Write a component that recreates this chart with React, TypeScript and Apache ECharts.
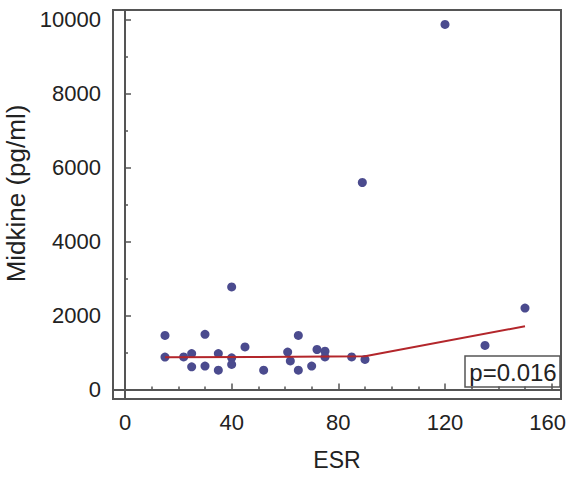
import React, { useEffect, useRef } from "react";
import * as echarts from "echarts";

const esr = [15, 15, 22, 25, 25, 30, 30, 35, 35, 40, 40, 40, 45, 52, 61, 62, 65, 65, 70, 72, 75, 75, 85, 89, 90, 120, 135, 150];
const midkine = [1460, 875, 880, 970, 610, 1490, 630, 970, 520, 2775, 855, 675, 1150, 520, 1010, 770, 1460, 520, 630, 1080, 1035, 880, 880, 5600, 810, 9880, 1190, 2200];
const fitX = [15, 50, 90, 150];
const fitY = [870, 878, 895, 1710];
const pLabel = "p=0.016";
const xName = "ESR";
const yName = "Midkine (pg/ml)";

const FONT = "'Liberation Sans', Arial, sans-serif";

export default function App() {
  const ref = useRef<HTMLDivElement>(null);
  useEffect(() => {
    if (!ref.current) return;
    const chart = echarts.init(ref.current, undefined, { renderer: "svg" });
    const points = esr.map((x, i) => [x, midkine[i]]);
    const fit = fitX.map((x, i) => [x, fitY[i]]);
    chart.setOption({
      animation: false,
      backgroundColor: "#ffffff",
      grid: {
        left: 113,
        right: 7,
        top: 10,
        bottom: 78,
        show: true,
        borderColor: "#555",
        borderWidth: 2,
        backgroundColor: "transparent",
        containLabel: false,
        outerBoundsMode: "none",
      },
      xAxis: {
        type: "value",
        min: -4.5,
        max: 163.5,
        splitNumber: 4,
        minInterval: 40,
        maxInterval: 40,
        name: xName,
        nameLocation: "middle",
        nameGap: 49,
        nameTextStyle: { fontFamily: FONT, fontSize: 23, color: "#222" },
        axisLine: { show: true, lineStyle: { color: "#555", width: 2 } },
        axisTick: { show: true, inside: true, length: 6, lineStyle: { color: "#555", width: 1.5 } },
        minorTick: { show: true, splitNumber: 4, length: 3, lineStyle: { color: "#555", width: 1.5 } },
        axisLabel: {
          fontFamily: FONT,
          fontSize: 22,
          color: "#222",
          margin: 12,
          showMinLabel: false,
          showMaxLabel: false,
          formatter: (v: number) => (v >= 160 ? `{r|${v}}` : String(v)),
          rich: {
            r: { fontFamily: FONT, fontSize: 22, color: "#222", padding: [0, 8, 0, 0] },
          },
        },
        splitLine: { show: false },
      },
      yAxis: {
        type: "value",
        min: -260,
        max: 10270,
        splitNumber: 5,
        minInterval: 2000,
        maxInterval: 2000,
        name: yName,
        nameLocation: "middle",
        nameGap: 72,
        nameTextStyle: { fontFamily: FONT, fontSize: 26, color: "#222", padding: [0, 0, 0, 22] },
        axisLine: { show: true, lineStyle: { color: "#555", width: 2 } },
        axisTick: { show: true, inside: true, length: 6, lineStyle: { color: "#555", width: 1.5 } },
        minorTick: { show: true, splitNumber: 2, length: 3, lineStyle: { color: "#555", width: 1.5 } },
        axisLabel: {
          fontFamily: FONT,
          fontSize: 22,
          color: "#222",
          margin: 12,
          showMinLabel: false,
          showMaxLabel: false,
          formatter: (v: number) => String(v),
        },
        splitLine: { show: false },
      },
      series: [
        {
          type: "scatter",
          data: points,
          symbolSize: 9,
          itemStyle: { color: "#4b4b8e", opacity: 1 },
          z: 2,
        },
        {
          type: "line",
          data: fit,
          showSymbol: false,
          symbol: "none",
          lineStyle: { color: "#b3262b", width: 2 },
          z: 3,
        },
      ],
      graphic: [
        {
          type: "group",
          z: 10,
          children: [
            {
              type: "rect",
              shape: { x: 465, y: 356, width: 95, height: 31 },
              style: { fill: "#ffffff", stroke: "#555", lineWidth: 1.5 },
            },
            {
              type: "text",
              x: 513,
              y: 372,
              style: {
                text: pLabel,
                font: `24px ${FONT}`,
                fill: "#222",
                align: "center",
                verticalAlign: "middle",
              },
            },
          ],
        },
      ],
    });
    return () => chart.dispose();
  }, []);
  return <div ref={ref} style={{ position: "fixed", left: 0, top: 0, width: 568, height: 477 }} />;
}
